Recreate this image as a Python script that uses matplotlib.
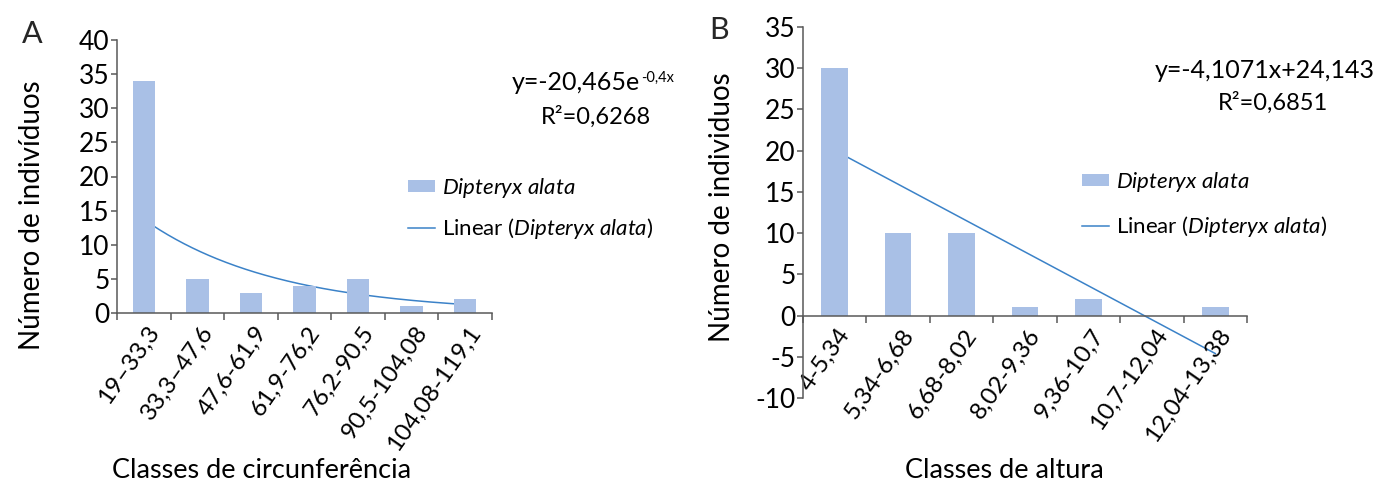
import numpy as np
import matplotlib
matplotlib.use("Agg")
import matplotlib.pyplot as plt
import matplotlib.transforms as mtrans
from matplotlib.patches import Patch
from matplotlib.lines import Line2D

plt.rcParams['font.family'] = ['Lato', 'DejaVu Sans']
plt.rcParams['mathtext.fontset'] = 'custom'
plt.rcParams['mathtext.rm'] = 'Lato'
plt.rcParams['mathtext.it'] = 'Lato:italic'
plt.rcParams['axes.unicode_minus'] = False

# ---- data
circ_classes = ['19–33,3', '33,3–47,6', '47,6-61,9', '61,9-76,2', '76,2-90,5',
                '90,5-104,08', '104,08-119,1']
circ_counts = [34, 5, 3, 4, 5, 1, 2]
circ_yticks = [0, 5, 10, 15, 20, 25, 30, 35, 40]

alt_classes = ['4-5,34', '5,34-6,68', '6,68-8,02', '8,02-9,36', '9,36-10,7',
               '10,7-12,04', '12,04-13,38']
alt_counts = [30, 10, 10, 1, 2, 0, 1]
alt_yticks = [-10, -5, 0, 5, 10, 15, 20, 25, 30, 35]

bar_color = '#a9c0e6'
line_color = '#3b82c8'
axis_color = '#595959'

W, H = 1381, 484
fig = plt.figure(figsize=(W / 100, H / 100), dpi=100)


def fx(x):
    return x / W


def fy(y):
    return 1 - y / H


def style_axes(ax, classes, yticks):
    x = np.arange(1, len(classes) + 1)
    for s in ['top', 'right']:
        ax.spines[s].set_visible(False)
    for s in ['left', 'bottom']:
        ax.spines[s].set_color(axis_color)
        ax.spines[s].set_linewidth(1.1)
    ax.set_xlim(0.5, len(classes) + 0.5)
    ax.set_xticks(x)
    ax.set_xticklabels(classes, rotation=55, ha='right', va='center',
                       rotation_mode='anchor', fontsize=17.5)
    ax.set_xticks(np.arange(0.5, len(classes) + 1, 1), minor=True)
    ax.tick_params(axis='x', which='major', length=0, pad=11)
    ax.tick_params(axis='x', which='minor', length=5, width=1.1, color=axis_color, direction='out')
    shift = mtrans.ScaledTranslation(8 / 72, 0, fig.dpi_scale_trans)
    for lbl in ax.get_xticklabels():
        lbl.set_transform(lbl.get_transform() + shift)
    ax.set_yticks(yticks)
    ax.set_yticklabels([str(v) for v in yticks], fontsize=19)
    ax.tick_params(axis='y', length=4.5, width=1.1, color=axis_color, pad=1)
    return x


# ---- panel A
axA = fig.add_axes([fx(117), fy(313), fx(492 - 117), (313 - 40) / H])
axA.set_ylim(0, 40)
xA = style_axes(axA, circ_classes, circ_yticks)
axA.bar(xA, circ_counts, width=0.42, color=bar_color, zorder=2)
b, loga = np.polyfit(xA, np.log(circ_counts), 1)
xs = np.linspace(1, len(circ_counts), 200)
axA.plot(xs, np.exp(loga) * np.exp(b * xs), color=line_color, lw=1.1, zorder=1)

# ---- panel B
axB = fig.add_axes([fx(803), fy(398), fx(1247 - 803), (398 - 27) / H])
axB.set_ylim(-10, 35)
axB.spines['bottom'].set_position(('data', 0))
xB = style_axes(axB, alt_classes, alt_yticks)
axB.bar(xB, alt_counts, width=0.42, color=bar_color, zorder=2)
m, c = np.polyfit(xB, alt_counts, 1)
xl = np.array([1, len(alt_counts)])
axB.plot(xl, m * xl + c, color=line_color, lw=1.1, zorder=1)

# ---- labels
fig.text(fx(22), fy(34), 'A', fontsize=22, va='center', ha='left', color='#262626')
fig.text(fx(709), fy(30), 'B', fontsize=22, va='center', ha='left', color='#262626')
fig.text(fx(32), fy(215), 'Número de indivíduos', rotation=90, fontsize=20,
         ha='center', va='center')
fig.text(fx(722), fy(207), 'Número de individuos', rotation=90, fontsize=20,
         ha='center', va='center')
fig.text(fx(262), fy(470), 'Classes de circunferência', fontsize=19.5, ha='center', va='center')
fig.text(fx(1004), fy(470), 'Classes de altura', fontsize=19.5, ha='center', va='center')

# equations
tA = fig.text(fx(640), fy(82), 'y=-20,465e', fontsize=18, ha='right', va='center')
fig.text(fx(596), fy(117), 'R²=0,6268', fontsize=17, ha='center', va='center')
axA.annotate('-0,4x', xy=(1, 1), xycoords=tA, xytext=(0.5, 0),
             textcoords='offset points', fontsize=10.5, ha='left', va='top')
fig.text(fx(1265), fy(70), 'y=-4,1071x+24,143', fontsize=18, ha='center', va='center')
fig.text(fx(1273), fy(103), 'R²=0,6851', fontsize=17, ha='center', va='center')

# legends
def add_legend(ax, x0, y0, spacing):
    handles = [Patch(facecolor=bar_color, edgecolor='none'),
               Line2D([], [], color=line_color, lw=1.1)]
    labels = [r'$\mathit{Dipteryx\ alata}$', r'Linear ($\mathit{Dipteryx\ alata}$)']
    ax.legend(handles, labels, loc='upper left', bbox_to_anchor=(fx(x0), fy(y0)),
              bbox_transform=fig.transFigure, frameon=False, fontsize=16,
              handlelength=1.2, handleheight=0.45, handletextpad=0.35,
              labelspacing=spacing, borderpad=0, borderaxespad=0)


add_legend(axA, 408, 176, 0.7)
add_legend(axB, 1082, 170, 0.88)

fig.savefig('out.png', dpi=100)
